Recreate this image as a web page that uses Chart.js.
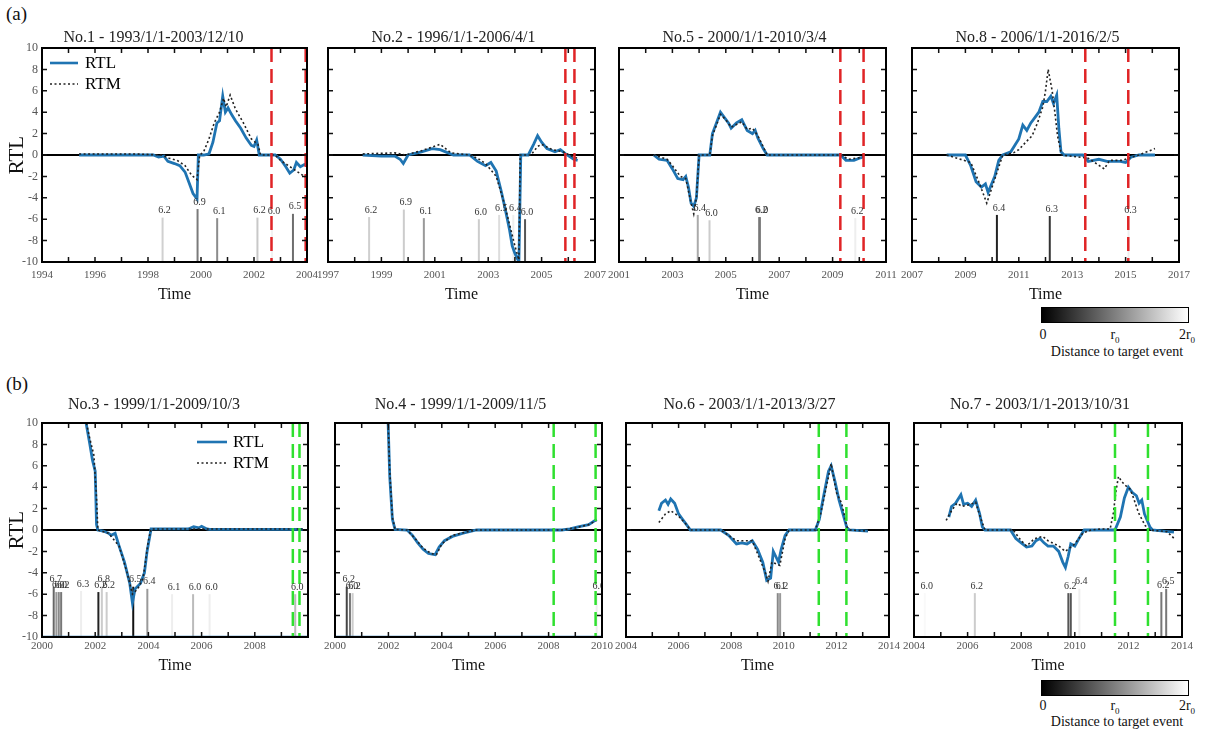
<!DOCTYPE html>
<html>
<head>
<meta charset="utf-8">
<script src="https://cdn.jsdelivr.net/npm/chart.js@4.4.1/dist/chart.umd.min.js"></script>
<style>
  body { margin: 0; background: #fff; width: 1208px; height: 731px; position: relative; overflow: hidden; font-family: "Liberation Serif", serif; }
  canvas { position: absolute; }
  .tag { position: absolute; font-size: 19px; color: #111; }
  .cbar { position: absolute; width: 148px; height: 16px; border: 1px solid #000; box-sizing: border-box;
          background: linear-gradient(to right, #000, #fff); }
  .cblab { position: absolute; font-size: 14px; color: #111; transform: translateX(-50%); white-space: nowrap; }
</style>
</head>
<body>
<div class="tag" style="left:6px;top:3px">(a)</div>
<div class="tag" style="left:6px;top:373px">(b)</div>

<div class="cbar" style="left:1041px;top:307px"></div>
<div class="cblab" style="left:1043px;top:327px">0</div>
<div class="cblab" style="left:1115px;top:327px">r<sub style="font-size:9px">0</sub></div>
<div class="cblab" style="left:1187px;top:327px">2r<sub style="font-size:9px">0</sub></div>
<div class="cblab" style="left:1117px;top:344px">Distance to target event</div>

<div class="cbar" style="left:1041px;top:680px"></div>
<div class="cblab" style="left:1043px;top:698px">0</div>
<div class="cblab" style="left:1115px;top:698px">r<sub style="font-size:9px">0</sub></div>
<div class="cblab" style="left:1187px;top:698px">2r<sub style="font-size:9px">0</sub></div>
<div class="cblab" style="left:1117px;top:714px">Distance to target event</div>

<script>
// ---- No.1 ----
const p1RtlT = [1995.4, 1996.5, 1997.5, 1998.2, 1998.4, 1998.6, 1998.75, 1999.0, 1999.2, 1999.4, 1999.55, 1999.7, 1999.85, 1999.9, 2000.1, 2000.3, 2000.45, 2000.6, 2000.7, 2000.82, 2000.92, 2001.02, 2001.15, 2001.3, 2001.5, 2001.7, 2001.9, 2002.0, 2002.1, 2002.2, 2002.4, 2002.8, 2003.0, 2003.2, 2003.35, 2003.5, 2003.6, 2003.75, 2003.9, 2004.05];
const p1RtlV = [0, 0, 0, 0, -0.2, -0.1, -0.6, -0.8, -1.0, -1.6, -2.6, -3.6, -4.1, 0, 0, 0.1, 1.2, 3.0, 3.2, 5.5, 4.0, 4.4, 3.8, 3.2, 2.5, 1.6, 0.9, 0.8, 1.4, 0, 0, 0, -0.4, -1.1, -1.7, -1.4, -0.7, -1.1, -0.9, -0.8];
const p1RtmT = [1995.4, 1997.5, 1998.5, 1998.8, 1999.1, 1999.4, 1999.65, 1999.85, 1999.95, 2000.1, 2000.3, 2000.5, 2000.7, 2000.85, 2000.95, 2001.1, 2001.3, 2001.6, 2001.9, 2002.15, 2002.25, 2002.8, 2003.0, 2003.3, 2003.6, 2003.9, 2004.05];
const p1RtmV = [0.1, 0.1, 0, -0.3, -0.5, -1.0, -1.9, -2.3, 0, 0.3, 1.5, 3.0, 4.0, 5.3, 4.5, 5.6, 4.3, 3.0, 1.5, 1.0, 0, 0, -0.5, -1.0, -1.5, -2.0, -2.3];
const p1EvYear = [1998.55, 1999.87, 2000.61, 2002.13, 2002.68, 2003.47];
const p1EvTop = [-5.85, -5.05, -5.9, -5.85, -5.9, -5.5];
const p1EvMag = ['6.2', '6.9', '6.1', '6.2', '6.0', '6.5'];
const p1EvDist = [1.63, 0.96, 1.1, 1.57, 1.9, 0.86];
const p1Marks = [2002.66, 2003.95];
const p1Ticks = [1994, 1996, 1998, 2000, 2002, 2004];

// ---- No.2 ----
const p2RtlT = [1998.3, 1999.0, 1999.5, 1999.7, 1999.82, 2000.0, 2000.5, 2000.9, 2001.2, 2001.5, 2001.7, 2002.3, 2002.6, 2002.9, 2003.1, 2003.3, 2003.5, 2003.65, 2003.8, 2003.9, 2004.0, 2004.15, 2004.22, 2004.5, 2004.7, 2004.85, 2005.0, 2005.2, 2005.5, 2005.7, 2005.9, 2006.2, 2006.35];
const p2RtlV = [0, -0.1, -0.1, -0.4, -0.8, 0, 0.3, 0.6, 0.5, 0.2, 0, 0, -0.6, -1.0, -0.7, -1.5, -3.5, -5.2, -7.0, -8.5, -9.2, -10, 0, 0, 1.0, 1.8, 1.2, 0.6, 0.3, 0.5, 0.1, -0.4, -0.5];
const p2RtmT = [1998.3, 1999.5, 1999.9, 2000.5, 2001.2, 2001.6, 2002.3, 2002.6, 2002.9, 2003.3, 2003.6, 2003.8, 2004.0, 2004.15, 2004.2, 2004.6, 2004.85, 2005.0, 2005.4, 2005.8, 2006.2, 2006.35];
const p2RtmV = [0.1, 0.2, 0, 0.4, 1.0, 0.2, 0, -0.3, -0.8, -2.0, -4.5, -6.5, -8.5, -9.8, 0, 0, 0.8, 1.0, 0.5, 0.3, -0.2, -0.3];
const p2EvYear = [1998.54, 1999.84, 2000.59, 2002.65, 2003.41, 2003.94, 2004.38];
const p2EvTop = [-5.8, -5.1, -5.9, -6.0, -5.6, -5.6, -6.0];
const p2EvMag = ['6.2', '6.9', '6.1', '6.0', '6.5', '6.4', '6.0'];
const p2EvDist = [1.62, 1.6, 1.2, 1.6, 1.73, 1.87, 0.67];
const p2Marks = [2005.89, 2006.23];
const p2Ticks = [1997, 1999, 2001, 2003, 2005, 2007];

// ---- No.5 ----
const p3RtlT = [2002.3, 2002.5, 2002.8, 2003.0, 2003.2, 2003.4, 2003.5, 2003.6, 2003.7, 2003.8, 2003.9, 2004.0, 2004.4, 2004.5, 2004.65, 2004.8, 2004.95, 2005.1, 2005.2, 2005.4, 2005.6, 2005.7, 2005.8, 2006.0, 2006.1, 2006.2, 2006.4, 2006.55, 2009.3, 2009.5, 2009.8, 2010.0, 2010.15];
const p3RtlV = [0, -0.4, -0.5, -1.3, -2.2, -2.3, -2.0, -3.0, -4.5, -4.8, -4.0, 0, 0, 2.0, 3.0, 4.0, 3.5, 3.0, 2.5, 3.0, 3.3, 2.8, 2.3, 2.0, 2.3, 1.6, 0.6, 0, 0, -0.5, -0.5, -0.3, -0.2];
const p3RtmT = [2002.3, 2002.8, 2003.0, 2003.3, 2003.5, 2003.7, 2003.8, 2003.9, 2004.0, 2004.4, 2004.5, 2004.8, 2005.0, 2005.2, 2005.6, 2005.8, 2006.0, 2006.2, 2006.55, 2009.3, 2009.6, 2010.15];
const p3RtmV = [0, -0.4, -1.0, -2.0, -2.2, -4.5, -5.5, -4.0, 0, 0, 1.8, 3.8, 3.3, 2.6, 3.1, 2.4, 2.5, 1.8, 0, 0, -0.4, -0.2];
const p3EvYear = [2003.95, 2004.39, 2006.25, 2006.28, 2009.85];
const p3EvTop = [-5.6, -6.1, -5.8, -5.8, -5.9];
const p3EvMag = ['6.4', '6.0', '6.2', '6.0', '6.2'];
const p3EvDist = [1.33, 1.6, 0.93, 1.07, 1.87];
const p3Marks = [2009.29, 2010.16];
const p3Ticks = [2001, 2003, 2005, 2007, 2009, 2011];

// ---- No.8 ----
const p4RtlT = [2008.3, 2009.0, 2009.2, 2009.4, 2009.6, 2009.75, 2009.85, 2010.1, 2010.25, 2010.4, 2010.7, 2011.0, 2011.15, 2011.3, 2011.45, 2011.6, 2011.75, 2011.9, 2012.05, 2012.2, 2012.3, 2012.42, 2012.5, 2012.58, 2012.7, 2013.4, 2013.6, 2014.0, 2014.3, 2014.8, 2015.0, 2015.2, 2015.5, 2016.1];
const p4RtlV = [0, 0, -1.0, -2.5, -3.0, -2.7, -3.5, -2.0, -0.5, 0, 0.3, 1.5, 2.8, 2.3, 3.0, 3.5, 4.0, 5.0, 5.0, 5.5, 4.8, 5.6, 2.5, 0.3, 0, 0, -0.6, -0.4, -0.6, -0.6, -0.7, -0.2, 0, 0];
const p4RtmT = [2008.3, 2009.2, 2009.5, 2009.8, 2010.0, 2010.2, 2010.4, 2010.8, 2011.0, 2011.3, 2011.5, 2011.7, 2011.9, 2012.0, 2012.1, 2012.25, 2012.35, 2012.45, 2012.6, 2013.6, 2014.2, 2014.4, 2014.9, 2015.1, 2015.5, 2015.8, 2016.1];
const p4RtmV = [0, -0.7, -2.5, -4.5, -3.0, -1.5, 0, 0.2, 0.5, 1.3, 1.8, 3.0, 4.5, 6.0, 8.0, 6.0, 4.0, 1.8, 0, -0.3, -1.3, -0.5, -0.5, -0.3, 0, 0.3, 0.6];
const p4EvYear = [2010.18, 2012.16, 2015.11];
const p4EvTop = [-5.6, -5.7, -5.8];
const p4EvMag = ['6.4', '6.3', '6.3'];
const p4EvDist = [0.27, 0.4, 1.87];
const p4Marks = [2013.49, 2015.1];
const p4Ticks = [2007, 2009, 2011, 2013, 2015, 2017];

// ---- No.3 ----
const p5RtlT = [2001.6, 2001.8, 2001.9, 2002.0, 2002.05, 2002.1, 2002.3, 2002.5, 2002.6, 2002.75, 2002.9, 2003.1, 2003.3, 2003.4, 2003.5, 2003.7, 2003.85, 2003.95, 2004.1, 2005.5, 2005.7, 2005.9, 2006.0, 2006.2, 2006.3, 2009.8];
const p5RtlV = [10.8, 8, 6.5, 5.5, 0.5, 0, -0.1, -0.3, -0.5, -0.3, -1.5, -3.0, -5.0, -6.8, -5.5, -5.0, -4.0, -2.0, 0.1, 0.1, 0.3, 0.2, 0.35, 0.1, 0.05, 0.05];
const p5RtmT = [2001.6, 2001.8, 2001.95, 2002.05, 2002.1, 2002.5, 2002.9, 2003.2, 2003.4, 2003.6, 2003.8, 2004.0, 2004.1, 2009.8];
const p5RtmV = [10.8, 8.5, 7.0, 3.0, 0, -0.3, -1.5, -4.0, -6.0, -5.5, -4.5, -1.0, 0.1, 0.1];
const p5FloorT = [2000, 2010];
const p5FloorV = [-10, -10];
const p5EvYear = [2000.44, 2000.54, 2000.63, 2000.72, 2001.47, 2002.12, 2002.25, 2002.43, 2003.43, 2003.96, 2004.89, 2005.68, 2006.3, 2009.52];
const p5EvTop = [-5.3, -5.8, -5.8, -5.8, -5.7, -5.8, -5.3, -5.8, -5.3, -5.5, -6.0, -6.0, -6.0, -6.0];
const p5EvMag = ['6.7', '6.0', '6.0', '6.2', '6.3', '6.2', '6.8', '6.2', '6.5', '6.4', '6.1', '6.0', '6.0', '6.0'];
const p5EvDist = [0.8, 1.2, 1.07, 0.93, 1.87, 0.27, 1.6, 1.6, 0.13, 1.2, 1.87, 1.47, 1.87, 1.47];
const p5Marks = [2009.43, 2009.68];
const p5Ticks = [2000, 2002, 2004, 2006, 2008];

// ---- No.4 ----
const p6RtlT = [2001.98, 2002.05, 2002.15, 2002.25, 2002.7, 2002.9, 2003.1, 2003.3, 2003.5, 2003.75, 2003.9, 2004.1, 2004.4, 2004.8, 2005.3, 2008.5, 2008.8, 2009.1, 2009.5, 2009.8];
const p6RtlV = [10.8, 5, 1, 0.05, 0, -0.5, -1.2, -1.8, -2.2, -2.3, -1.6, -1.0, -0.6, -0.3, 0, 0, 0.1, 0.3, 0.5, 1.0];
const p6RtmT = [2001.98, 2002.05, 2002.15, 2002.25, 2002.7, 2003.0, 2003.3, 2003.6, 2003.8, 2004.0, 2004.4, 2004.9, 2005.3, 2008.5, 2009.0, 2009.5, 2009.8];
const p6RtmV = [10.8, 5.5, 1.2, 0.05, 0, -0.8, -1.7, -2.2, -2.3, -1.3, -0.5, -0.2, 0, 0, 0.2, 0.5, 0.9];
const p6FloorT = [2000, 2010];
const p6FloorV = [-10, -10];
const p6EvYear = [2000.44, 2000.56, 2000.66, 2009.8];
const p6EvTop = [-5.3, -5.9, -5.9, -5.9];
const p6EvMag = ['6.2', '6.0', '6.2', '6.0'];
const p6EvDist = [0.53, 0.93, 1.6, 1.87];
const p6Marks = [2008.19, 2009.76];
const p6Ticks = [2000, 2002, 2004, 2006, 2008, 2010];

// ---- No.6 ----
const p7RtlT = [2005.25, 2005.35, 2005.5, 2005.6, 2005.7, 2005.85, 2006.0, 2006.15, 2006.3, 2006.45, 2007.6, 2007.9, 2008.2, 2008.4, 2008.6, 2008.8, 2009.0, 2009.2, 2009.35, 2009.5, 2009.6, 2009.7, 2009.8, 2009.9, 2010.05, 2010.2, 2011.2, 2011.35, 2011.5, 2011.7, 2011.8, 2011.95, 2012.1, 2012.25, 2012.4, 2012.5, 2013.2];
const p7RtlV = [1.8, 2.5, 2.8, 2.4, 2.9, 2.5, 1.5, 1.0, 0.5, 0, 0, -0.5, -1.3, -1.2, -1.3, -1.0, -1.8, -3.0, -4.7, -4.5, -2.0, -2.5, -3.0, -1.8, -0.5, 0, 0, 1.0, 3.0, 5.5, 6.0, 4.5, 2.8, 1.5, 0.2, 0, -0.1];
const p7RtmT = [2005.25, 2005.5, 2005.7, 2006.0, 2006.3, 2006.45, 2007.6, 2008.2, 2008.8, 2009.3, 2009.4, 2009.55, 2009.85, 2010.05, 2010.2, 2011.2, 2011.4, 2011.7, 2011.8, 2012.0, 2012.2, 2012.4, 2012.5, 2013.2];
const p7RtmV = [0.7, 1.5, 1.8, 1.3, 0.5, 0, 0, -1.0, -1.0, -4.0, -4.8, -3.0, -3.3, -0.8, 0, 0, 1.5, 5.0, 6.2, 3.5, 2.5, 0.3, 0, -0.1];
const p7EvYear = [2009.77, 2009.86];
const p7EvTop = [-5.9, -5.9];
const p7EvMag = ['6.1', '6.2'];
const p7EvDist = [1.07, 1.2];
const p7Marks = [2011.33, 2012.38];
const p7Ticks = [2004, 2006, 2008, 2010, 2012, 2014];

// ---- No.7 ----
const p8RtlT = [2005.3, 2005.4, 2005.55, 2005.75, 2005.85, 2006.0, 2006.15, 2006.3, 2006.45, 2006.55, 2006.65, 2007.6, 2007.8, 2008.0, 2008.2, 2008.4, 2008.55, 2008.7, 2008.85, 2009.0, 2009.2, 2009.4, 2009.55, 2009.65, 2009.75, 2009.85, 2010.0, 2010.2, 2010.35, 2011.5, 2011.7, 2011.85, 2012.0, 2012.15, 2012.3, 2012.4, 2012.5, 2012.6, 2012.8, 2012.9, 2013.3, 2013.7];
const p8RtlV = [1.2, 2.2, 2.5, 3.3, 2.4, 2.5, 2.2, 2.8, 1.5, 0.3, 0, 0, -0.8, -1.2, -1.6, -1.5, -1.0, -0.8, -1.2, -1.5, -1.5, -2.0, -3.0, -3.5, -2.5, -1.3, -1.5, -0.6, 0, 0, 1.2, 3.0, 4.0, 3.5, 3.2, 2.5, 2.8, 1.5, 0.3, 0, -0.1, -0.2];
const p8RtmT = [2005.2, 2005.4, 2005.6, 2005.8, 2006.1, 2006.3, 2006.5, 2006.65, 2007.7, 2008.0, 2008.2, 2008.5, 2008.8, 2009.0, 2009.4, 2009.65, 2010.0, 2010.3, 2010.6, 2011.0, 2011.32, 2011.44, 2011.54, 2011.63, 2011.76, 2011.92, 2012.07, 2012.19, 2012.38, 2012.63, 2012.82, 2013.44, 2013.71];
const p8RtmV = [0.9, 1.8, 2.5, 2.2, 2.4, 2.6, 1.0, 0, 0, -1.0, -1.5, -0.8, -0.6, -1.0, -1.5, -2.0, -1.3, -0.3, 0, 0.1, 0.1, 1.6, 3.7, 5.0, 4.5, 4.1, 3.8, 3.0, 1.6, 0.4, 0, -0.15, -0.8];
const p8EvYear = [2004.4, 2006.27, 2009.76, 2009.85, 2010.17, 2013.23, 2013.41];
const p8EvTop = [-5.9, -5.9, -5.9, -5.9, -5.5, -5.8, -5.5];
const p8EvMag = ['6.0', '6.2', '6.2', '', '6.4', '6.2', '6.5'];
const p8EvDist = [1.95, 1.6, 0.67, 0.67, 1.87, 0.93, 0.93];
const p8Marks = [2011.5, 2012.73];
const p8Ticks = [2004, 2006, 2008, 2010, 2012, 2014];

const RED = '#e02426';
const GREEN = '#2fe02f';
const BLUE = '#1f74b2';
const SERIF = '"Liberation Serif", "Times New Roman", serif';

// plot rectangles [left, top, right, bottom] in page pixels
const panels = [
  { title: 'No.1 - 1993/1/1-2003/12/10', box: [42, 48, 307, 262], row: 0, xMin: 1994, xMax: 2004, ticks: p1Ticks,
    rtl: [p1RtlT, p1RtlV], rtm: [p1RtmT, p1RtmV], ev: [p1EvYear, p1EvTop, p1EvMag, p1EvDist], marks: p1Marks, markColor: RED,
    showY: true, legend: { dx: 8, dy: 15, len: 28, tx: 43 } },
  { title: 'No.2 - 1996/1/1-2006/4/1', box: [328, 48, 595, 262], row: 0, xMin: 1997, xMax: 2007, ticks: p2Ticks,
    rtl: [p2RtlT, p2RtlV], rtm: [p2RtmT, p2RtmV], ev: [p2EvYear, p2EvTop, p2EvMag, p2EvDist], marks: p2Marks, markColor: RED },
  { title: 'No.5 - 2000/1/1-2010/3/4', box: [619, 48, 886, 262], row: 0, xMin: 2001, xMax: 2011, ticks: p3Ticks,
    rtl: [p3RtlT, p3RtlV], rtm: [p3RtmT, p3RtmV], ev: [p3EvYear, p3EvTop, p3EvMag, p3EvDist], marks: p3Marks, markColor: RED },
  { title: 'No.8 - 2006/1/1-2016/2/5', box: [912, 48, 1179, 262], row: 0, xMin: 2007, xMax: 2017, ticks: p4Ticks,
    rtl: [p4RtlT, p4RtlV], rtm: [p4RtmT, p4RtmV], ev: [p4EvYear, p4EvTop, p4EvMag, p4EvDist], marks: p4Marks, markColor: RED },
  { title: 'No.3 - 1999/1/1-2009/10/3', box: [42, 423, 308, 637], row: 1, xMin: 2000, xMax: 2010, ticks: p5Ticks,
    rtl: [p5RtlT, p5RtlV], rtm: [p5RtmT, p5RtmV], floor: [p5FloorT, p5FloorV], ev: [p5EvYear, p5EvTop, p5EvMag, p5EvDist], marks: p5Marks, markColor: GREEN,
    showY: true, legend: { dx: 155, dy: 19, len: 30, tx: 191 } },
  { title: 'No.4 - 1999/1/1-2009/11/5', box: [335, 423, 602, 637], row: 1, xMin: 2000, xMax: 2010, ticks: p6Ticks,
    rtl: [p6RtlT, p6RtlV], rtm: [p6RtmT, p6RtmV], floor: [p6FloorT, p6FloorV], ev: [p6EvYear, p6EvTop, p6EvMag, p6EvDist], marks: p6Marks, markColor: GREEN },
  { title: 'No.6 - 2003/1/1-2013/3/27', box: [626, 423, 889, 637], row: 1, xMin: 2004, xMax: 2014, ticks: p7Ticks,
    rtl: [p7RtlT, p7RtlV], rtm: [p7RtmT, p7RtmV], ev: [p7EvYear, p7EvTop, p7EvMag, p7EvDist], marks: p7Marks, markColor: GREEN },
  { title: 'No.7 - 2003/1/1-2013/10/31', box: [914, 423, 1182, 637], row: 1, xMin: 2004, xMax: 2014, ticks: p8Ticks,
    rtl: [p8RtlT, p8RtlV], rtm: [p8RtmT, p8RtmV], ev: [p8EvYear, p8EvTop, p8EvMag, p8EvDist], marks: p8Marks, markColor: GREEN }
];

function pts(t, v) {
  return t.map((x, i) => ({ x: x, y: v[i] }));
}

function shade(d) {
  const g = Math.round(Math.min(Math.max(d / 2, 0), 1) * 255);
  return 'rgb(' + g + ',' + g + ',' + g + ')';
}

// box, inward ticks, magnitude labels and legend
const frame = {
  id: 'frame',
  afterDatasetsDraw(chart) {
    const { ctx, chartArea: a } = chart;
    ctx.save();
    ctx.beginPath();
    ctx.rect(a.left, a.top, a.width, a.height);
    ctx.clip();
    ctx.font = '10px ' + SERIF;
    ctx.fillStyle = '#333';
    ctx.textAlign = 'center';
    ctx.textBaseline = 'bottom';
    chart.data.datasets.forEach((d, i) => {
      if (!d.magnitude) return;
      const top = chart.getDatasetMeta(i).data[1];
      ctx.fillText(d.magnitude, top.x + 2, top.y - 2);
    });
    ctx.restore();
  },
  afterDraw(chart, args, opts) {
    const { ctx, chartArea: a, scales } = chart;
    ctx.save();
    ctx.strokeStyle = '#111';
    ctx.lineWidth = 1.5;
    ctx.beginPath();
    scales.x.ticks.forEach(t => {
      const px = scales.x.getPixelForValue(t.value);
      ctx.moveTo(px, a.bottom); ctx.lineTo(px, a.bottom - 5);
      ctx.moveTo(px, a.top); ctx.lineTo(px, a.top + 5);
    });
    scales.y.ticks.forEach(t => {
      const py = scales.y.getPixelForValue(t.value);
      ctx.moveTo(a.left, py); ctx.lineTo(a.left + 5, py);
      ctx.moveTo(a.right, py); ctx.lineTo(a.right - 5, py);
    });
    ctx.stroke();
    ctx.lineWidth = 2;
    ctx.strokeStyle = '#000';
    ctx.strokeRect(a.left, a.top, a.width, a.height);

    const lg = opts.legend;
    if (lg) {
      const x0 = a.left + lg.dx, y0 = a.top + lg.dy;
      ctx.lineWidth = 2.6; ctx.strokeStyle = BLUE; ctx.setLineDash([]);
      ctx.beginPath(); ctx.moveTo(x0, y0); ctx.lineTo(x0 + lg.len, y0); ctx.stroke();
      ctx.lineWidth = 1.6; ctx.strokeStyle = '#222'; ctx.setLineDash([2, 2.5]);
      ctx.beginPath(); ctx.moveTo(x0, y0 + 21); ctx.lineTo(x0 + lg.len, y0 + 21); ctx.stroke();
      ctx.setLineDash([]);
      ctx.font = '17px ' + SERIF; ctx.fillStyle = '#000';
      ctx.textAlign = 'left'; ctx.textBaseline = 'middle';
      ctx.fillText('RTL', a.left + lg.tx, y0 + 1);
      ctx.fillText('RTM', a.left + lg.tx, y0 + 22);
    }
    ctx.restore();
  }
};

panels.forEach(p => {
  const [L, T, R, B] = p.box;
  const yW = p.showY ? 42 : 16;
  const padR = yW;
  const titleH = p.row === 0 ? 24 : 32;
  const xH = p.row === 0 ? 42 : 38;

  const canvas = document.createElement('canvas');
  canvas.width = (R - L) + yW + padR;
  canvas.height = (B - T) + titleH + xH;
  canvas.style.left = (L - yW) + 'px';
  canvas.style.top = (T - titleH) + 'px';
  document.body.appendChild(canvas);

  const datasets = [];
  p.marks.forEach(m => {
    datasets.push({ data: [{ x: m, y: 10 }, { x: m, y: -10 }], borderColor: p.markColor, borderWidth: 2.5,
      borderDash: [14, 7], pointRadius: 0 });
  });
  datasets.push({ label: 'RTM', data: pts(p.rtm[0], p.rtm[1]), borderColor: '#222', borderWidth: 1.6,
    borderDash: [2, 2.5], pointRadius: 0 });
  datasets.push({ label: 'RTL', data: pts(p.rtl[0], p.rtl[1]), borderColor: BLUE, borderWidth: 2.8, pointRadius: 0 });
  if (p.floor) {
    datasets.push({ data: pts(p.floor[0], p.floor[1]), borderColor: '#333', borderWidth: 1.2, borderDash: [2, 2.5], pointRadius: 0 });
    datasets.push({ data: pts(p.floor[0], p.floor[1]), borderColor: BLUE, borderWidth: 2.6, pointRadius: 0 });
  }
  const [evY, evTop, evMag, evDist] = p.ev;
  evY.forEach((yr, i) => {
    datasets.push({ data: [{ x: yr, y: -10 }, { x: yr, y: evTop[i] }], borderColor: shade(evDist[i]),
      borderWidth: 2, pointRadius: 0, magnitude: evMag[i] });
  });

  new Chart(canvas, {
    type: 'line',
    data: { datasets: datasets },
    plugins: [frame],
    options: {
      responsive: false,
      animation: false,
      devicePixelRatio: 1,
      events: [],
      layout: { padding: { left: 0, right: padR, top: 0, bottom: 0 } },
      plugins: {
        legend: { display: false },
        tooltip: { enabled: false },
        title: { display: true, text: p.title, color: '#222', font: { family: SERIF, size: 16, weight: 'normal' },
          padding: { top: 4, bottom: titleH - 23.2 } },
        frame: { legend: p.legend || null }
      },
      scales: {
        x: {
          type: 'linear', min: p.xMin, max: p.xMax,
          grid: { display: false, drawTicks: false },
          border: { display: false },
          ticks: { stepSize: 1, autoSkip: false, maxRotation: 0, padding: p.row === 0 ? 7 : 3, color: '#555',
            font: { family: SERIF, size: 11 },
            callback: v => p.ticks.includes(v) ? String(v) : '' },
          title: { display: true, text: 'Time', color: '#111', font: { family: SERIF, size: 16 }, padding: 0 },
          afterFit: s => { s.height = xH; s.paddingLeft = 0; s.paddingRight = 0; }
        },
        y: {
          min: -10, max: 10,
          grid: { drawTicks: false, color: c => c.tick.value === 0 ? '#000' : 'rgba(0,0,0,0)', lineWidth: 2 },
          border: { display: false },
          ticks: { display: !!p.showY, stepSize: 2, padding: 4, color: '#555', font: { family: SERIF, size: 12 } },
          title: { display: !!p.showY, text: 'RTL', color: '#111', font: { family: SERIF, size: 21 }, padding: { top: 5, bottom: 0 } },
          afterFit: s => { s.width = yW; s.paddingTop = 0; s.paddingBottom = 0; }
        }
      }
    }
  });
});
</script>
</body>
</html>
